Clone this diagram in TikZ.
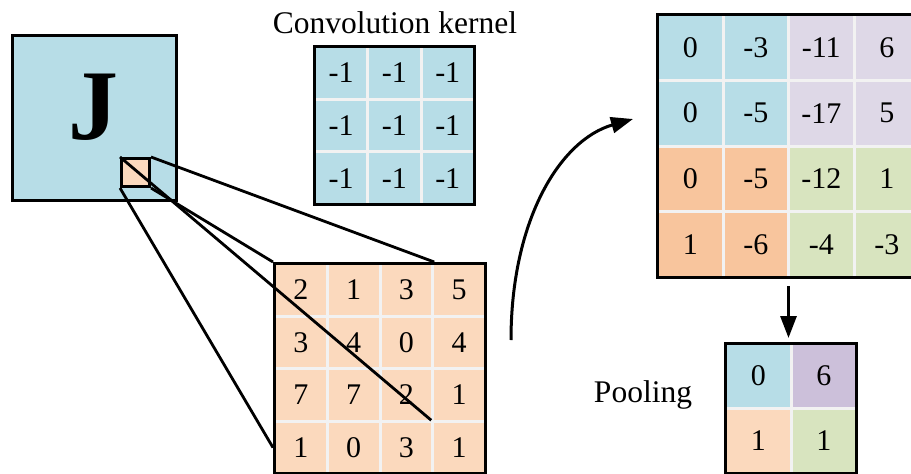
\documentclass[tikz,border=0pt]{standalone}
\usepackage{fontspec}
\setmainfont{Liberation Serif}
\usetikzlibrary{arrows.meta,positioning,calc}
\definecolor{iceblue}{HTML}{B7DDE7}
\definecolor{peach}{HTML}{FBD9BD}
\definecolor{apricot}{HTML}{F8C59D}
\definecolor{lilac}{HTML}{DED8E7}
\definecolor{grape}{HTML}{CCC0DA}
\definecolor{sage}{HTML}{D8E4BF}
\definecolor{gridline}{HTML}{F2F2F2}

\begin{document}
\begin{tikzpicture}[x=1pt,y=-1pt,font=\fontsize{30}{31}\selectfont,
  frame/.style={draw=black,line width=3pt,inner sep=0pt,anchor=north west},
  cell/.style={draw=gridline,line width=3pt,inner sep=0pt,anchor=north west},
  caption/.style={anchor=base,font=\fontsize{31.5}{32}\selectfont},
  wire/.style={line width=2.8pt},
  arrow/.style={line width=3pt,-{Triangle[length=22pt,width=16pt]}}]
\useasboundingbox (0,0) rectangle (911,474);
\clip (0,0) rectangle (911,474);

% input picture with the letter
\node[frame,fill=iceblue,minimum width=164pt,minimum height=165pt] (img) at (11,34) {};
\node[font=\fontsize{100}{100}\selectfont\bfseries] (J) at (93,107) {J};
\node[frame,fill=peach,minimum size=28pt] (patch) at (120,157) {};

% convolution kernel
\node[caption] (klabel) at (395,33) {Convolution kernel};
\foreach \v [count=\i from 0] in {-1,-1,-1,-1,-1,-1,-1,-1,-1}{
  \pgfmathtruncatemacro\r{\i/3}\pgfmathtruncatemacro\c{mod(\i,3)}
  \node[cell,fill=iceblue,minimum width=53.3pt,minimum height=52.7pt]
    (k-\r-\c) at ({313+53.3*\c},{45+52.7*\r}) {\v};}
\node[frame,minimum width=160pt,minimum height=158pt] (kernel) at (313,45) {};

% input patch values
\foreach \v [count=\i from 0] in {2,1,3,5,3,4,0,4,7,7,2,1,1,0,3,1}{
  \pgfmathtruncatemacro\r{\i/4}\pgfmathtruncatemacro\c{mod(\i,4)}
  \node[cell,fill=peach,minimum width=52.75pt,minimum height=52.6pt]
    (in-\r-\c) at ({273+52.75*\c},{262+52.6*\r}) {\v};}
\node[frame,minimum width=211pt,minimum height=210.4pt] (input) at (273,262) {};

% feature map
\foreach \v/\col [count=\i from 0] in {0/iceblue,-3/iceblue,-11/lilac,6/lilac,
    0/iceblue,-5/iceblue,-17/lilac,5/lilac,0/apricot,-5/apricot,-12/sage,1/sage,
    1/apricot,-6/apricot,-4/sage,-3/sage}{
  \pgfmathtruncatemacro\r{\i/4}\pgfmathtruncatemacro\c{mod(\i,4)}
  \node[cell,fill=\col,minimum width=65.5pt,minimum height=65.75pt]
    (out-\r-\c) at ({656+65.5*\c},{13+65.75*\r}) {\v};}
\node[frame,minimum width=262pt,minimum height=263pt] (out) at (656,13) {};

% pooling result
\node[caption] (plabel) at (643,402) {Pooling};
\foreach \v/\col [count=\i from 0] in {0/iceblue,6/grape,1/peach,1/sage}{
  \pgfmathtruncatemacro\r{\i/2}\pgfmathtruncatemacro\c{mod(\i,2)}
  \node[cell,fill=\col,minimum width=65.5pt,minimum height=65pt]
    (pool-\r-\c) at ({724+65.5*\c},{342+65*\r}) {\v};}
\node[frame,minimum width=131pt,minimum height=130pt] (pool) at (724,342) {};

% lines from the patch to the enlarged window
\draw[wire] (patch.north east) -- (in-0-2.north east);
\draw[wire,shorten >=4pt] (patch.north west) -- (in-2-2.south east);
\draw[wire] (patch.south east) -- (in-0-0.north west);
\draw[wire] (patch.south west) -- (in-3-0.west);

% arrows
\coordinate (cstart) at (511,340);
\coordinate (cend) at (633,119);
\draw[arrow] (cstart) .. controls (511,220) and (560,140) .. (cend);
\draw[arrow,shorten <=7pt,shorten >=4pt] (out.south) -- (out.south |- pool.north);
\end{tikzpicture}
\end{document}
